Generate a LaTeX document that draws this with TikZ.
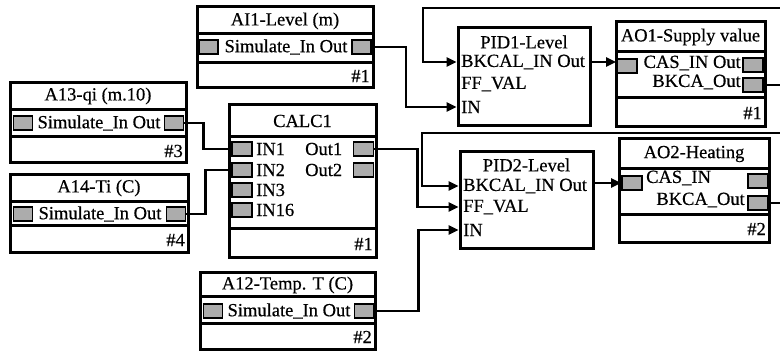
\documentclass[tikz,border=0pt]{standalone}
\usepackage{fontspec}
\setmainfont{Liberation Serif}
\newfontfamily\heavyserif{Liberation Serif}[FakeBold=0.5]
\usetikzlibrary{arrows.meta,calc}
\definecolor{portgray}{RGB}{172,172,172}
\begin{document}
\begin{tikzpicture}[x=1pt,y=-1pt,
 blk/.style={draw, line width=3pt, inner sep=0pt},
 div/.style={line width=3pt},
 port/.style={draw, line width=1.8pt, fill=portgray, inner sep=0pt, minimum width=19pt, minimum height=14pt},
 wire/.style={line width=2.4pt},
 arr/.style={wire, -{Triangle[length=10pt,width=9pt]}},
 txt/.style={inner sep=0pt, font=\heavyserif\fontsize{18.5}{20}\selectfont}]
\useasboundingbox (0,0) rectangle (780,352);
\clip (0,0) rectangle (780,352);
\fill[white] (0,0) rectangle (780,352);

% AI1
\node[blk, minimum width=176pt, minimum height=81pt] (ai1) at (285,47.5) {};
\draw[div] (197,34) -- (373,34);
\draw[div] (197,63) -- (373,63);
\node[txt] (ai1t) at (285,21) {AI1-Level (m)};
\node[port] (ai1L) at (208.5,47) {};
\node[port] (ai1R) at (361.5,47) {};
\node[txt] (ai1s) at (286,47) {Simulate\_In Out};
\node[txt, anchor=east] (ai1n) at (370,76) {\#1};

% A13
\node[blk, minimum width=176pt, minimum height=80pt] (a13) at (98,123) {};
\draw[div] (10,110) -- (186,110);
\draw[div] (10,137) -- (186,137);
\node[txt] (a13t) at (98,96) {A13-qi (m.10)};
\node[port] (a13L) at (23,123) {};
\node[port] (a13R) at (174,123) {};
\node[txt] (a13s) at (99,123) {Simulate\_In Out};
\node[txt, anchor=east] (a13n) at (183,151) {\#3};

% A14
\node[blk, minimum width=178pt, minimum height=78pt] (a14) at (99,214) {};
\draw[div] (10,202) -- (188,202);
\draw[div] (10,226) -- (188,226);
\node[txt] (a14t) at (99,188) {A14-Ti (C)};
\node[port] (a14L) at (23,214) {};
\node[port] (a14R) at (176,214) {};
\node[txt] (a14s) at (100,214) {Simulate\_In Out};
\node[txt, anchor=east] (a14n) at (185,240) {\#4};

% A12
\node[blk, minimum width=175pt, minimum height=77pt] (a12) at (287.5,311.5) {};
\draw[div] (200,297) -- (375,297);
\draw[div] (200,324) -- (375,324);
\node[txt] (a12t) at (287.5,285) {A12-Temp. T (C)};
\node[port] (a12L) at (213,311) {};
\node[port] (a12R) at (364,311) {};
\node[txt] (a12s) at (289,311) {Simulate\_In Out};
\node[txt, anchor=east] (a12n) at (372,337) {\#2};

% CALC1
\node[blk, minimum width=147pt, minimum height=153pt] (calc) at (302.5,181.5) {};
\draw[div] (229,137) -- (376,137);
\draw[div] (229,229) -- (376,229);
\node[txt] (calct) at (302.5,121) {CALC1};
\node[port, minimum width=20pt] (c1) at (242,149) {};
\node[port, minimum width=20pt] (c2) at (242,170) {};
\node[port, minimum width=20pt] (c3) at (242,190) {};
\node[port, minimum width=20pt] (c16) at (242,210) {};
\node[port, minimum width=20pt] (co1) at (363.5,149) {};
\node[port, minimum width=20pt] (co2) at (363.5,170) {};
\node[txt, anchor=west] (c1t) at (256,149) {IN1};
\node[txt, anchor=west] (c2t) at (256,170) {IN2};
\node[txt, anchor=west] (c3t) at (256,190) {IN3};
\node[txt, anchor=west] (c16t) at (256,210) {IN16};
\node[txt, anchor=west] (co1t) at (305,149) {Out1};
\node[txt, anchor=west] (co2t) at (305,170) {Out2};
\node[txt, anchor=east] (calcn) at (373,244) {\#1};

% PID1
\node[blk, minimum width=132pt, minimum height=98pt] (pid1) at (524,77) {};
\node[txt] (pid1t) at (524,42) {PID1-Level};
\node[txt, anchor=west] (p1bk) at (461,62) {BKCAL\_IN Out};
\node[txt, anchor=west] (p1ff) at (461,84) {FF\_VAL};
\node[txt, anchor=west] (p1in) at (461,107) {IN};

% PID2
\node[blk, minimum width=133pt, minimum height=97pt] (pid2) at (526.5,200.5) {};
\node[txt] (pid2t) at (526.5,165) {PID2-Level};
\node[txt, anchor=west] (p2bk) at (463,186) {BKCAL\_IN Out};
\node[txt, anchor=west] (p2ff) at (463,207) {FF\_VAL};
\node[txt, anchor=west] (p2in) at (463,230) {IN};

% AO1
\node[blk, minimum width=149pt, minimum height=105pt] (ao1) at (690.5,74.5) {};
\draw[div] (616,52) -- (765,52);
\draw[div] (616,98) -- (765,98);
\node[txt] (ao1t) at (690.5,37) {AO1-Supply value};
\node[port, minimum width=20pt] (ao1L) at (627,66) {};
\node[port, minimum width=20pt] (ao1R1) at (753,65) {};
\node[port, minimum width=20pt] (ao1R2) at (753,85) {};
\node[txt, anchor=east] (ao1c) at (741,63) {CAS\_IN Out};
\node[txt, anchor=east] (ao1b) at (741,82) {BKCA\_Out};
\node[txt, anchor=east] (ao1n) at (762,113) {\#1};

% AO2
\node[blk, minimum width=150pt, minimum height=104pt] (ao2) at (694,191) {};
\draw[div] (619,169) -- (769,169);
\draw[div] (619,215) -- (769,215);
\node[txt] (ao2t) at (694,154) {AO2-Heating};
\node[port, minimum width=20pt] (ao2L) at (632,183) {};
\node[port, minimum width=20pt] (ao2R1) at (758,181) {};
\node[port, minimum width=20pt] (ao2R2) at (758,203) {};
\node[txt, anchor=west] (ao2c) at (646,178) {CAS\_IN};
\node[txt, anchor=east] (ao2b) at (745,200) {BKCA\_Out};
\node[txt, anchor=east] (ao2n) at (766,229) {\#2};

% connectors
\draw[arr] (ai1R.east) -- ++(34,0) |- (pid1.west |- p1in);
\draw[wire] (a13R.east) -- ++(19,0) |- (c1.west);
\draw[wire] (a14R.east) -- ++(19,0) |- (c2.west);
\draw[arr] (co1.east) -- ++(43,0) |- (pid2.west |- p2ff);
\draw[arr] (a12R.east) -- ++(44,0) |- (pid2.west |- p2in);
\draw[arr] (pid1.east |- p1bk) -- (ao1L.west |- p1bk);
\draw[arr] (pid2.east |- ao2L) -- (ao2L.west);
\coordinate (fb1a) at (786,8);
\coordinate (fb1b) at (423,8);
\draw[arr] (ao1R2.east) -| (fb1a) -- (fb1b) |- (pid1.west |- p1bk);
\coordinate (fb2a) at (786,133);
\coordinate (fb2b) at (422,133);
\draw[arr] (ao2R2.east) -| (fb2a) -- (fb2b) |- (pid2.west |- p2bk);
\end{tikzpicture}
\end{document}
